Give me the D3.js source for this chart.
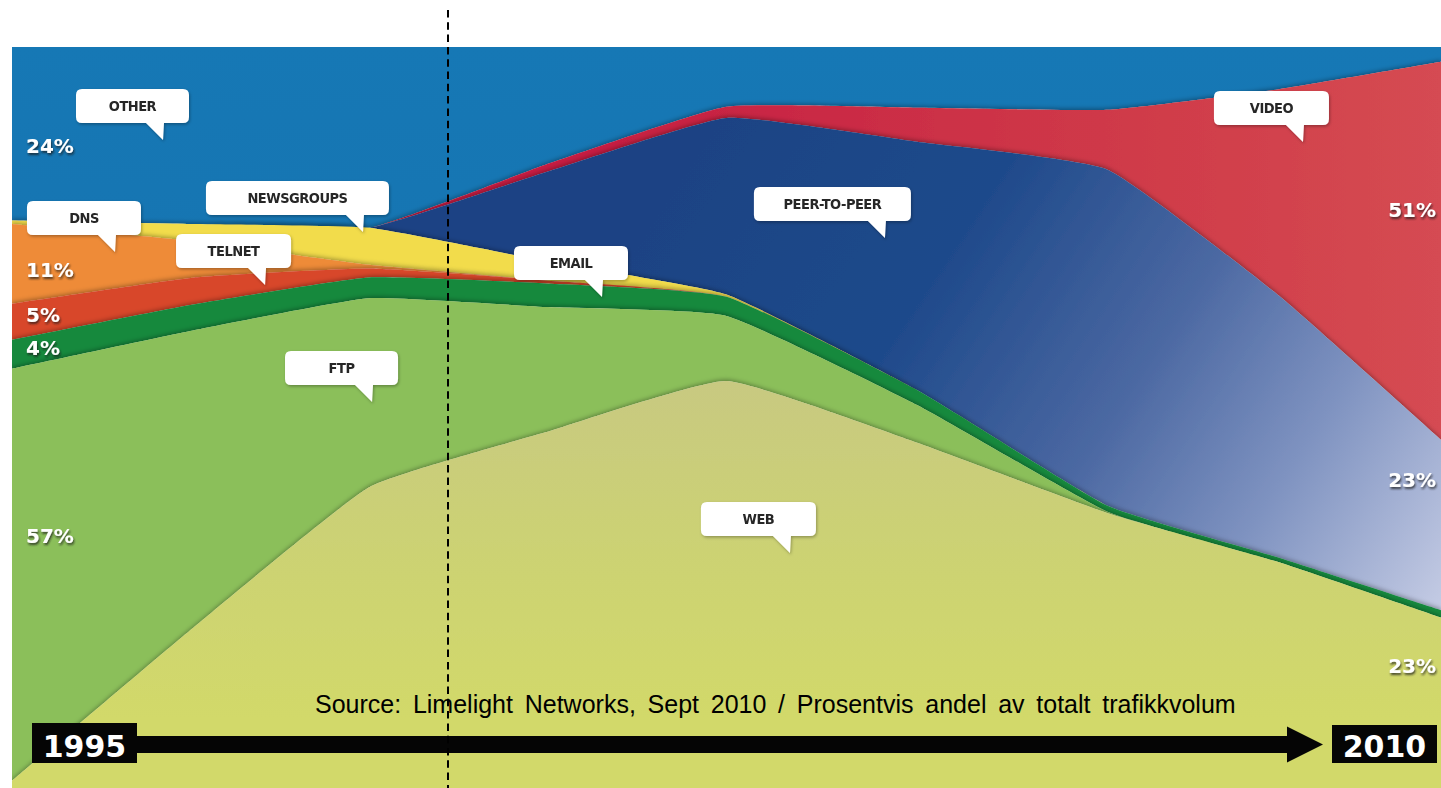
<!DOCTYPE html>
<html>
<head>
<meta charset="utf-8">
<script src="https://cdn.jsdelivr.net/npm/d3@7"></script>
<style>
  html, body { margin: 0; padding: 0; background: #fff; overflow: hidden; }
  svg { display: block; }
</style>
</head>
<body>
<svg id="chart" width="1441" height="788"></svg>
<script>
// Share of total internet traffic by application, 1995 -> 2010 (percent)
const years      = [1995, 1996.9, 1998.75, 2000.6, 2002.5, 2004.5, 2006.5, 2008.3, 2010];
const web        = [1,    21.5,   40.6,    48,     55.1,   46.6,   37.2,   30.5,   23];
const ftp        = [57,   40,     25.5,    16.9,   8.8,    5.1,    0.2,    0,      0];
const email      = [4,    3.5,    2.8,     3.2,    2.6,    2,      0.8,    0.6,    1];
const telnet     = [5,    3.6,    1.2,     0.4,    0,      0,      0,      0,      0];
const dns        = [11,   4.9,    0.5,     0,      0,      0,      0,      0,      0];
const newsgroups = [0.5,  2.3,    5,       2.6,    0.3,    0,      0,      0,      0];
const p2p        = [0,    0,      0,       12,     23.9,   33.5,   45.5,   35.4,   23];
const video      = [0,    0,      0,       1,      1.5,    4.6,    8.1,    27.9,   51];
const other      = [24,   23.8,   24.4,    15.9,   8.1,    8.2,    8.5,    5.7,    2];

// Stack order, bottom to top
const layerKeys = ["web", "ftp", "email", "telnet", "dns", "newsgroups", "p2p", "video", "other"];
const seriesByKey = { web, ftp, email, telnet, dns, newsgroups, p2p, video, other };

// Callout labels: tip of the speech bubble given in (year, share) space
const callouts = [
  { text: "OTHER",        year: 1996.585, share: 0.8745, w: 113 },
  { text: "DNS",          year: 1996.081, share: 0.7233, w: 114 },
  { text: "NEWSGROUPS",   year: 1998.684, share: 0.7503, w: 183 },
  { text: "TELNET",       year: 1997.656, share: 0.6788, w: 115 },
  { text: "FTP",          year: 1998.779, share: 0.5209, w: 113 },
  { text: "EMAIL",        year: 2001.193, share: 0.6626, w: 114 },
  { text: "PEER-TO-PEER", year: 2004.163, share: 0.7422, w: 157 },
  { text: "VIDEO",        year: 2008.551, share: 0.8718, w: 115 },
  { text: "WEB",          year: 2003.166, share: 0.3171, w: 115 }
];

const startYear = years[0], endYear = years[years.length - 1];
const sourceText = "Source: Limelight Networks, Sept 2010 / Prosentvis andel av totalt trafikkvolum";

// ---- layout ----
const W = 1441, H = 788;
const plot = { left: 12, right: 1441, top: 47, bottom: 788 };

const table = years.map((yr, i) => {
  const row = { year: yr };
  layerKeys.forEach(k => { row[k] = seriesByKey[k][i]; });
  return row;
});

const stacked = d3.stack()
  .keys(layerKeys)
  .offset(d3.stackOffsetExpand)(table);

const x = d3.scaleLinear().domain([startYear, endYear]).range([plot.left, plot.right]);
const y = d3.scaleLinear().domain([0, 1]).range([plot.bottom, plot.top]);

// high-tension cardinal: nearly straight runs with softly rounded bends
const area = d3.area()
  .x(d => x(d.data.year))
  .y0(d => y(d[0]))
  .y1(d => y(d[1]))
  .curve(d3.curveCardinal.tension(0.6));

const svg = d3.select("#chart");
const defs = svg.append("defs");

defs.append("clipPath").attr("id", "plotClip")
  .append("rect")
  .attr("x", plot.left).attr("y", plot.top)
  .attr("width", plot.right - plot.left).attr("height", plot.bottom - plot.top);

// soft paper-cut shadow cast upward by each layer
const lift = defs.append("filter").attr("id", "lift")
  .attr("x", "-5%").attr("y", "-10%").attr("width", "110%").attr("height", "120%");
lift.append("feDropShadow").attr("dx", 0).attr("dy", -1.5).attr("stdDeviation", 2.2)
  .attr("flood-color", "#000").attr("flood-opacity", 0.32);

const txtShadow = defs.append("filter").attr("id", "txtShadow")
  .attr("x", "-20%").attr("y", "-30%").attr("width", "150%").attr("height", "170%");
txtShadow.append("feDropShadow").attr("dx", 1).attr("dy", 2).attr("stdDeviation", 1.3)
  .attr("flood-color", "#1a1a1a").attr("flood-opacity", 0.75);

const boxShadow = defs.append("filter").attr("id", "boxShadow")
  .attr("x", "-10%").attr("y", "-20%").attr("width", "125%").attr("height", "150%");
boxShadow.append("feDropShadow").attr("dx", 1).attr("dy", 1.5).attr("stdDeviation", 1.5)
  .attr("flood-color", "#000").attr("flood-opacity", 0.3);

const textBlur = defs.append("filter").attr("id", "textBlur");
textBlur.append("feGaussianBlur").attr("stdDeviation", 0.35);

function linGrad(id, x1, y1, x2, y2, stops) {
  const g = defs.append("linearGradient").attr("id", id)
    .attr("gradientUnits", "userSpaceOnUse")
    .attr("x1", x1).attr("y1", y1).attr("x2", x2).attr("y2", y2);
  stops.forEach(([o, c]) => g.append("stop").attr("offset", o).attr("stop-color", c));
  return `url(#${id})`;
}

const fills = {
  web: linGrad("gWeb", 0, 380, 0, 720, [[0, "#c8c981"], [0.5, "#ccd273"], [1, "#d2d96a"]]),
  ftp: "#8bbf5a",
  email: "#13893e",
  telnet: "#d8472b",
  dns: "#ee8b37",
  newsgroups: "#f2dc4c",
  p2p: linGrad("gP2P", 700, 150, 1441, 640,
    [[0, "#1a4384"], [0.3, "#1f4a8b"], [0.55, "#4b68a2"], [0.75, "#7e92c0"], [1, "#cad0e7"]]),
  video: linGrad("gVideo", 600, 0, 1441, 0, [[0, "#c61e42"], [0.6, "#cf3948"], [1, "#d54b52"]]),
  other: linGrad("gOther", 0, 47, 0, 400, [[0, "#1378b5"], [1, "#1273b0"]])
};

const layers = svg.append("g").attr("clip-path", "url(#plotClip)");

// paint from the top layer down so each lower layer's shadow falls on the one above
layers.selectAll("path.layer")
  .data(stacked.slice().reverse())
  .join("path")
  .attr("class", "layer")
  .attr("d", area)
  .attr("fill", d => fills[d.key])
  .attr("filter", "url(#lift)");

// ---- percentage labels at both ends ----
const lastIdx = years.length - 1;
const pctLabels = [
  { key: "other",  idx: 0,       baseline: 153 },
  { key: "dns",    idx: 0,       baseline: 277 },
  { key: "telnet", idx: 0,       baseline: 322 },
  { key: "email",  idx: 0,       baseline: 355 },
  { key: "ftp",    idx: 0,       baseline: 543 },
  { key: "video",  idx: lastIdx, baseline: 217 },
  { key: "p2p",    idx: lastIdx, baseline: 487 },
  { key: "web",    idx: lastIdx, baseline: 673 }
];

svg.append("g").selectAll("text")
  .data(pctLabels)
  .join("text")
  .attr("x", d => d.idx === 0 ? x(years[0]) + 14 : x(years[lastIdx]) - 5)
  .attr("y", d => d.baseline)
  .attr("text-anchor", d => d.idx === 0 ? "start" : "end")
  .attr("font-family", "'DejaVu Sans', sans-serif")
  .attr("font-weight", "bold")
  .attr("font-size", 20)
  .attr("fill", "#ffffff")
  .attr("filter", "url(#txtShadow)")
  .text(d => `${seriesByKey[d.key][d.idx]}%`);

// ---- speech-bubble callouts ----
const boxH = 34, tipDrop = 17, tipRight = 26, tipBase = 17, r = 6;
function bubblePath(c) {
  const tx = x(c.year), ty = y(c.share);
  const right = tx + tipRight, left = right - c.w;
  const bottom = ty - tipDrop, top = bottom - boxH;
  return [
    `M${left + r},${top}`,
    `H${right - r}`, `Q${right},${top} ${right},${top + r}`,
    `V${bottom - r}`, `Q${right},${bottom} ${right - r},${bottom}`,
    `H${tx + 1}`, `L${tx},${ty}`, `L${tx - tipBase},${bottom}`,
    `H${left + r}`, `Q${left},${bottom} ${left},${bottom - r}`,
    `V${top + r}`, `Q${left},${top} ${left + r},${top}`, "Z"
  ].join(" ");
}

const bubbles = svg.append("g").selectAll("g.callout")
  .data(callouts)
  .join("g")
  .attr("class", "callout");

bubbles.append("path")
  .attr("d", bubblePath)
  .attr("fill", "#ffffff")
  .attr("filter", "url(#boxShadow)");

bubbles.append("text")
  .attr("x", c => x(c.year) + tipRight - c.w / 2)
  .attr("y", c => y(c.share) - tipDrop - boxH + 22)
  .attr("text-anchor", "middle")
  .attr("font-family", "'DejaVu Sans Condensed', 'DejaVu Sans', sans-serif")
  .attr("font-stretch", "condensed")
  .attr("font-weight", "bold")
  .attr("font-size", 14.5)
  .attr("letter-spacing", -0.5)
  .attr("fill", "#252525")
  .attr("filter", "url(#textBlur)")
  .text(c => c.text);

// ---- source line ----
svg.append("text")
  .attr("x", 315)
  .attr("y", 713)
  .attr("font-family", "'Liberation Sans', Arial, sans-serif")
  .attr("font-size", 25)
  .attr("word-spacing", 4.8)
  .attr("fill", "#000")
  .text(sourceText);

// ---- time arrow with year boxes ----
const arrowY = 744.5, barH = 17;
const boxL = { x: x(startYear) + 20, w: 105 };
const boxR = { x: x(endYear) - 109, w: 105 };
const headBase = x(endYear) - 154, headTip = x(endYear) - 118;

const arrow = svg.append("g");
arrow.append("rect")
  .attr("x", boxL.x + boxL.w - 2).attr("y", arrowY - barH / 2)
  .attr("width", headBase - (boxL.x + boxL.w) + 4).attr("height", barH)
  .attr("fill", "#050505");
arrow.append("path")
  .attr("d", `M${headBase},${arrowY - 18} L${headTip},${arrowY} L${headBase},${arrowY + 18} Z`)
  .attr("fill", "#050505");

[[boxL, startYear, 723], [boxR, endYear, 725]].forEach(([b, yr, top]) => {
  arrow.append("rect")
    .attr("x", b.x).attr("y", top).attr("width", b.w).attr("height", 763 - top)
    .attr("fill", "#050505");
  arrow.append("text")
    .attr("x", b.x + b.w / 2).attr("y", 757)
    .attr("text-anchor", "middle")
    .attr("font-family", "'DejaVu Sans', sans-serif")
    .attr("font-weight", "bold")
    .attr("font-size", 30)
    .attr("fill", "#ffffff")
    .text(String(yr));
});

// ---- dashed marker line ----
svg.append("line")
  .attr("x1", 448).attr("x2", 448)
  .attr("y1", 10).attr("y2", H)
  .attr("stroke", "#000")
  .attr("stroke-width", 2)
  .attr("stroke-dasharray", "7.5,4.8");
</script>
</body>
</html>
